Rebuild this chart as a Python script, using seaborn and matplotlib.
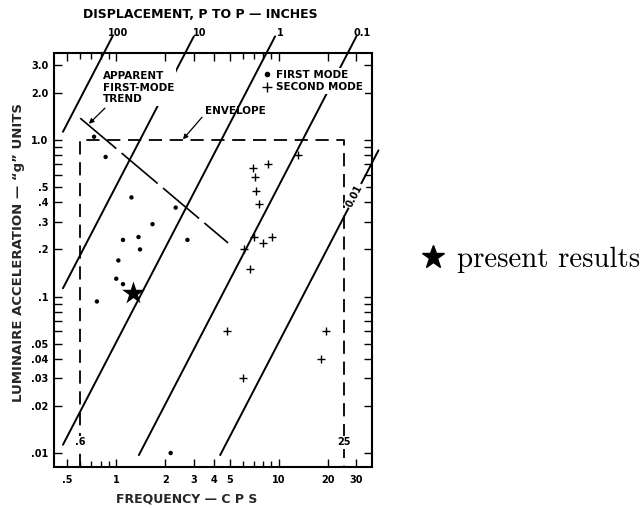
import numpy as np
import matplotlib
matplotlib.use("Agg")
import matplotlib.pyplot as plt
import seaborn as sns
from matplotlib.lines import Line2D
from matplotlib.ticker import FixedLocator, FixedFormatter, NullFormatter

# ---------------- data ----------------
first_mode_freq = [0.73, 0.86, 1.24, 2.32, 1.67, 1.10, 1.37, 1.40, 2.74, 1.03, 1.00, 1.10, 0.76, 2.16]
first_mode_accel = [1.05, 0.78, 0.43, 0.37, 0.29, 0.23, 0.24, 0.20, 0.23, 0.17, 0.13, 0.12, 0.093, 0.010]

second_mode_freq = [13.1, 8.6, 6.9, 7.1, 7.2, 7.5, 7.0, 9.1, 8.0, 6.1, 6.65, 4.8, 19.6, 18.2, 6.0]
second_mode_accel = [0.80, 0.70, 0.66, 0.58, 0.47, 0.39, 0.24, 0.24, 0.22, 0.20, 0.15, 0.060, 0.060, 0.040, 0.030]

present_freq = [1.27]
present_accel = [0.105]

displacement_inches = [100, 10, 1, 0.1, 0.01]
displacement_labels = ["100", "10", "1", "0.1", "0.01"]

envelope_freq = [0.6, 25]
envelope_accel = 1.0
envelope_labels = [".6", "25"]

trend_freq = [0.60, 4.87]
trend_accel = [1.38, 0.22]

xtick_values = [0.5, 1, 2, 3, 4, 5, 10, 20, 30]
xtick_labels = [".5", "1", "2", "3", "4", "5", "10", "20", "30"]
xminor_values = [0.6, 0.7, 0.8, 0.9, 6, 7, 8, 9]
ytick_values = [0.01, 0.02, 0.03, 0.04, 0.05, 0.1, 0.2, 0.3, 0.4, 0.5, 1.0, 2.0, 3.0]
ytick_labels = [".01", ".02", ".03", ".04", ".05", ".1", ".2", ".3", ".4", ".5", "1.0", "2.0", "3.0"]
yminor_values = [0.06, 0.07, 0.08, 0.09, 0.6, 0.7, 0.8, 0.9]

# ---------------- style ----------------
sns.set_theme(style="ticks")
plt.rcParams["font.family"] = ["DejaVu Sans"]
plt.rcParams["font.weight"] = "bold"
plt.rcParams["lines.scale_dashes"] = False
plt.rcParams["axes.edgecolor"] = "black"
plt.rcParams["xtick.color"] = "black"
plt.rcParams["ytick.color"] = "black"
plt.rcParams["text.color"] = "black"

W, H = 644, 508
fig = plt.figure(figsize=(W / 100, H / 100), dpi=100)
ax = fig.add_axes([54 / W, 1 - 467 / H, 318 / W, 414 / H])
ax.set_xscale("log")
ax.set_yscale("log")
ax.set_xlim(0.414, 37.4)
ax.set_ylim(0.00814, 3.60)

white = dict(facecolor="white", edgecolor="none", pad=1.0)


def accel_g(freq, disp):
    """acceleration (g) for sinusoidal motion of peak-to-peak displacement disp (in)"""
    return (2 * np.pi * np.asarray(freq)) ** 2 * (disp / 2.0) / 386.09


# constant displacement lines
for d, lab in zip(displacement_inches, displacement_labels):
    c = accel_g(1.0, d)
    f_lo = max(0.47, np.sqrt(0.0097 / c))
    f_hi = min(np.sqrt(4.6 / c), 41.0)
    fr = np.array([f_lo, f_hi])
    sns.lineplot(x=fr, y=accel_g(fr, d), ax=ax, color="black", lw=1.4,
                 clip_on=False, sort=False, estimator=None, zorder=2)
    if d >= 0.1:
        ax.annotate(lab, xy=(f_hi, accel_g(f_hi, d)), xytext=(4, -1),
                    textcoords="offset points", ha="center", va="bottom",
                    fontsize=7, annotation_clip=False)
    else:
        a_lab = 0.44
        f_lab = np.sqrt(a_lab / c)
        p1 = ax.transData.transform((f_lab, a_lab))
        p2 = ax.transData.transform((f_lab * 2, accel_g(f_lab * 2, d)))
        ang = np.degrees(np.arctan2(p2[1] - p1[1], p2[0] - p1[0]))
        ax.text(f_lab, a_lab, lab, rotation=ang, rotation_mode="anchor",
                ha="center", va="center", fontsize=7, bbox=white, zorder=4)

# envelope
ylow = ax.get_ylim()[0]
ax.plot([envelope_freq[0], envelope_freq[0], envelope_freq[1], envelope_freq[1]],
        [ylow, envelope_accel, envelope_accel, ylow], color="black", lw=1.3,
        dashes=(9.5, 5.5), zorder=2)
for fx, lab in zip(envelope_freq, envelope_labels):
    ax.text(fx, 0.0117, lab, ha="center", va="center", fontsize=7, bbox=white, zorder=4)

# apparent first-mode trend
sns.lineplot(x=trend_freq, y=trend_accel, ax=ax, color="black", lw=1.2,
             dashes=False, sort=False, estimator=None, zorder=2)
ax.lines[-1].set_dashes((34, 5))

# data points
sns.scatterplot(x=first_mode_freq, y=first_mode_accel, ax=ax, marker="o", s=10,
                color="black", edgecolor="none", linewidth=0, zorder=5)
sns.scatterplot(x=second_mode_freq, y=second_mode_accel, ax=ax, marker="+", s=40,
                color="black", linewidth=1.0, zorder=5)
sns.scatterplot(x=present_freq, y=present_accel, ax=ax, marker="*", s=300,
                color="black", edgecolor="black", linewidth=0, zorder=6)

# annotations
ax.text(0.828, 2.76, "APPARENT\nFIRST-MODE\nTREND", ha="left", va="top",
        fontsize=7.5, linespacing=1.2, bbox=dict(facecolor="white", edgecolor="none", pad=1.5), zorder=4)
ax.annotate("", xy=(0.679, 1.27), xytext=(0.852, 1.60),
            arrowprops=dict(arrowstyle="-|>", color="black", lw=0.9,
                            mutation_scale=7, shrinkA=0, shrinkB=0))
ax.text(3.51, 1.53, "ENVELOPE", ha="left", va="center", fontsize=7.5, zorder=4)
ax.annotate("", xy=(2.57, 1.01), xytext=(3.37, 1.40),
            arrowprops=dict(arrowstyle="-|>", color="black", lw=0.9,
                            mutation_scale=7, shrinkA=0, shrinkB=0))

# inner legend
h1 = Line2D([], [], marker="o", ms=3, ls="none", color="black")
h2 = Line2D([], [], marker="+", ms=6.5, mew=1.0, ls="none", color="black")
leg = ax.legend([h1, h2], ["FIRST MODE", "SECOND MODE"], loc="upper left",
                bbox_to_anchor=((261 - 54) / 318, (467 - 68) / 414),
                frameon=True, fancybox=False, framealpha=1, facecolor="white",
                edgecolor="none", borderpad=0.2, handlelength=0.8,
                handletextpad=0.45, labelspacing=0.2, borderaxespad=0,
                prop={"size": 7.5, "weight": "bold"})
leg.set_zorder(4)
ax.add_artist(leg)

# ticks
ax.xaxis.set_major_locator(FixedLocator(xtick_values))
ax.xaxis.set_major_formatter(FixedFormatter(xtick_labels))
ax.xaxis.set_minor_locator(FixedLocator(xminor_values))
ax.xaxis.set_minor_formatter(NullFormatter())
ax.yaxis.set_major_locator(FixedLocator(ytick_values))
ax.yaxis.set_major_formatter(FixedFormatter(ytick_labels))
ax.yaxis.set_minor_locator(FixedLocator(yminor_values))
ax.yaxis.set_minor_formatter(NullFormatter())
ax.tick_params(which="both", direction="in", top=True, right=True, width=1.0,
               labelsize=7, colors="black")
ax.tick_params(axis="x", which="major", length=5.5, pad=5.5)
ax.tick_params(axis="x", which="minor", length=4)
ax.tick_params(axis="y", which="both", length=6, pad=4)
for lab in ax.get_xticklabels() + ax.get_yticklabels():
    lab.set_fontweight("bold")
for sp in ax.spines.values():
    sp.set_linewidth(1.5)
    sp.set_color("black")

# axis labels
ax.set_xlabel("FREQUENCY \u2014 C P S", fontsize=9, fontweight="bold")
ax.xaxis.set_label_coords((187 - 54) / 318, (467 - 493) / 414)
ax.set_ylabel("LUMINAIRE ACCELERATION \u2014 \u201cg\u201d UNITS", fontsize=9.5, fontweight="bold")
ax.yaxis.set_label_coords((25 - 54) / 318, (467 - 252) / 414)
ax.text((200 - 54) / 318, (467 - 14) / 414, "DISPLACEMENT, P TO P \u2014 INCHES",
        transform=ax.transAxes, ha="center", va="center", fontsize=9, fontweight="bold")

# outer legend (present results)
hs = Line2D([], [], marker="*", ms=17, ls="none", color="black")
fig.legend([hs], ["present results"], loc="center left",
           bbox_to_anchor=(422 / W, 1 - 260 / H), frameon=False,
           prop={"family": "cmr10", "size": 20.8}, handlelength=0.78,
           handletextpad=0.44, borderpad=0, borderaxespad=0)

fig.savefig("out.png", dpi=100, facecolor="white")
